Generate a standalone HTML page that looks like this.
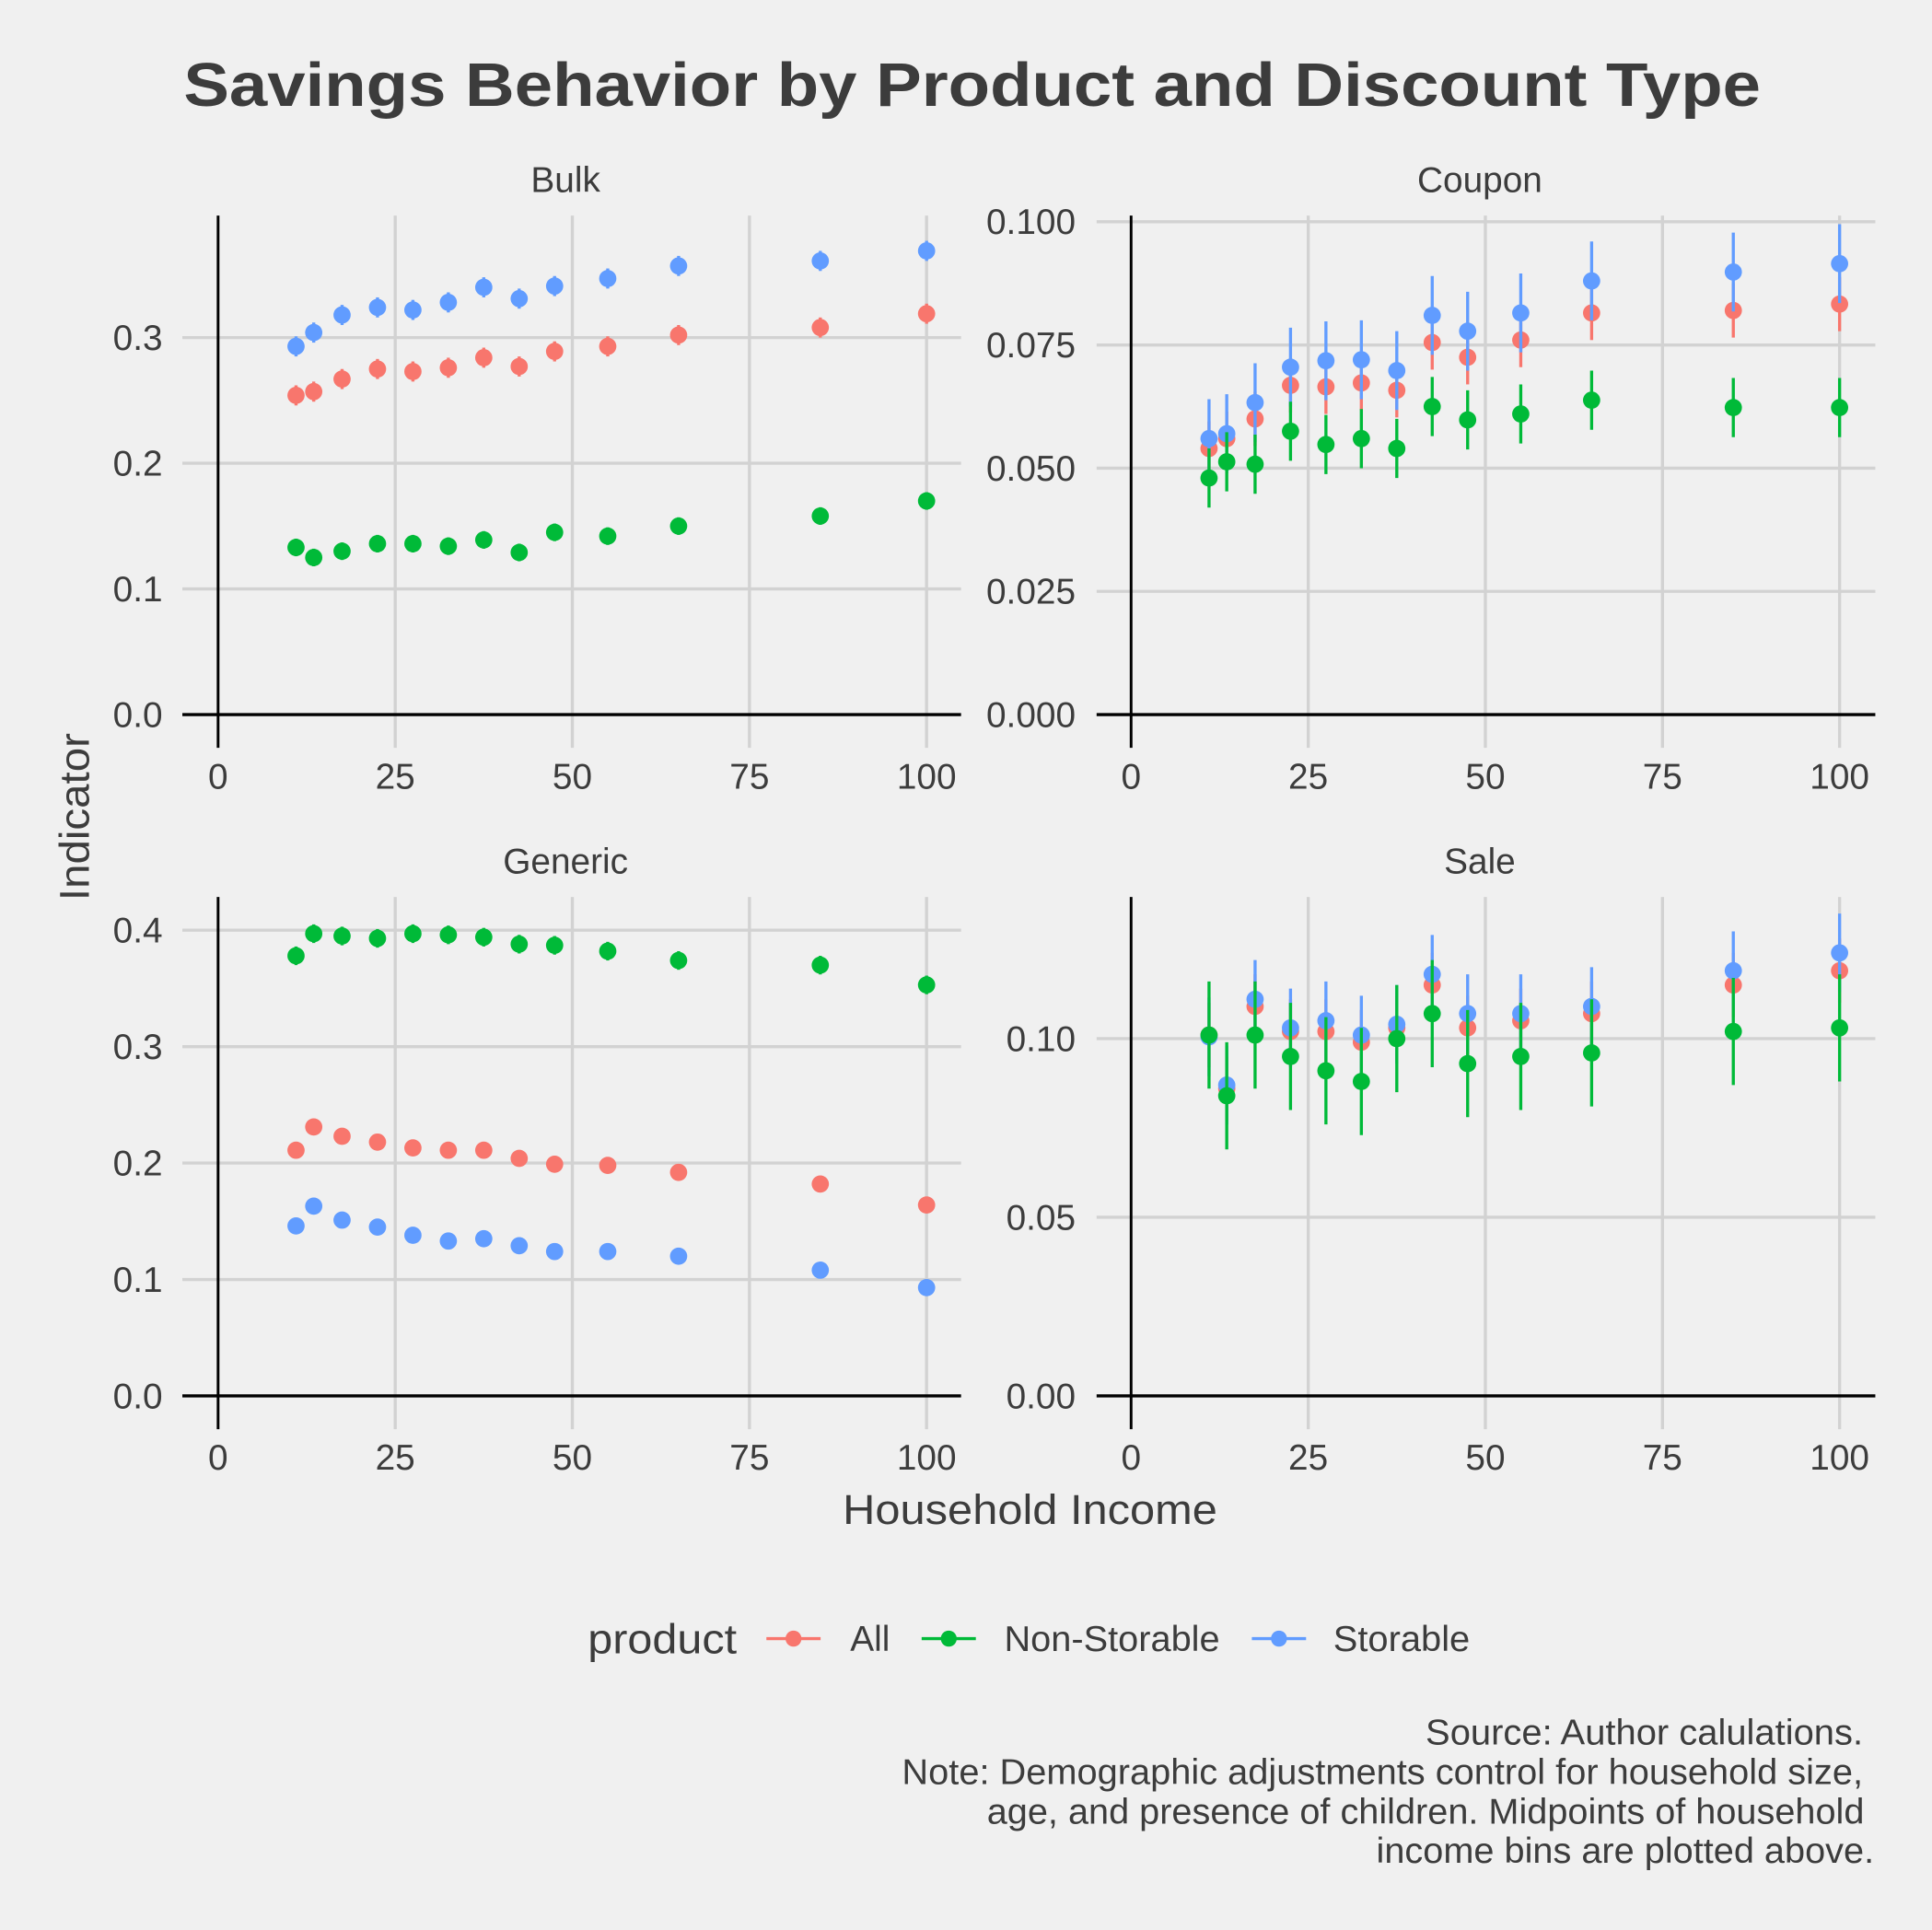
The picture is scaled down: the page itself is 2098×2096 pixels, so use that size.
<!DOCTYPE html>
<html><head><meta charset="utf-8">
<style>
html,body{margin:0;padding:0;background:#f0f0f0;}
svg{display:block;font-family:"Liberation Sans",Arial,sans-serif;}
</style></head>
<body>
<svg id="chart" xmlns="http://www.w3.org/2000/svg" width="2098" height="2096" viewBox="0 0 1568 1566.5">
<rect width="1568" height="1567" fill="#f0f0f0"/>
<text x="789" y="86" text-anchor="middle" font-size="50" font-weight="bold" fill="#3c3c3c" textLength="1280" lengthAdjust="spacingAndGlyphs">Savings Behavior by Product and Discount Type</text>
<text transform="translate(72,663) rotate(-90)" text-anchor="middle" font-size="34" fill="#3c3c3c" textLength="136" lengthAdjust="spacingAndGlyphs">Indicator</text>
<text x="836" y="1237" text-anchor="middle" font-size="34" fill="#3c3c3c" textLength="304" lengthAdjust="spacingAndGlyphs">Household Income</text>
<g id="panels"></g>
<g>
<text x="477" y="1342" font-size="34" fill="#3c3c3c" textLength="121" lengthAdjust="spacingAndGlyphs">product</text>
<g><line x1="622" y1="1330" x2="666" y2="1330" stroke="#F8766D" stroke-width="2.5"/><circle cx="644" cy="1330" r="6.5" fill="#F8766D"/><text x="690" y="1340" font-size="29" fill="#3c3c3c">All</text></g>
<g><line x1="748" y1="1330" x2="792" y2="1330" stroke="#00BA38" stroke-width="2.5"/><circle cx="770" cy="1330" r="6.5" fill="#00BA38"/><text x="815" y="1340" font-size="29" fill="#3c3c3c" textLength="175" lengthAdjust="spacingAndGlyphs">Non-Storable</text></g>
<g><line x1="1016" y1="1330" x2="1060" y2="1330" stroke="#619CFF" stroke-width="2.5"/><circle cx="1038" cy="1330" r="6.5" fill="#619CFF"/><text x="1082" y="1340" font-size="29" fill="#3c3c3c" textLength="111" lengthAdjust="spacingAndGlyphs">Storable</text></g>
</g>
<g font-size="29" fill="#3c3c3c">
<text x="1157" y="1416" textLength="355" lengthAdjust="spacingAndGlyphs">Source: Author calulations.</text>
<text x="732" y="1448" textLength="780" lengthAdjust="spacingAndGlyphs">Note: Demographic adjustments control for household size,</text>
<text x="801" y="1480" textLength="712" lengthAdjust="spacingAndGlyphs">age, and presence of children. Midpoints of household</text>
<text x="1117" y="1512" textLength="404" lengthAdjust="spacingAndGlyphs">income bins are plotted above.</text>
</g>
</svg>
<script>
const incomes = [11, 13.5, 17.5, 22.5, 27.5, 32.5, 37.5, 42.5, 47.5, 55, 65, 85, 100];
const xTicks = [0, 25, 50, 75, 100];
const bulkAll = [0.254,0.257,0.267,0.275,0.273,0.276,0.284,0.277,0.289,0.293,0.302,0.308,0.319];
const bulkNon = [0.133,0.125,0.130,0.136,0.136,0.134,0.139,0.129,0.145,0.142,0.150,0.158,0.170];
const bulkSto = [0.293,0.304,0.318,0.324,0.322,0.328,0.340,0.331,0.341,0.347,0.357,0.361,0.369];
const couponAll = [0.054,0.056,0.060,0.0668,0.0665,0.0673,0.0658,0.0755,0.0725,0.076,0.0815,0.082,0.0833];
const couponNon = [0.048,0.0513,0.0508,0.0575,0.0548,0.056,0.054,0.0625,0.0598,0.061,0.0638,0.0623,0.0623];
const couponSto = [0.056,0.057,0.0633,0.0705,0.0718,0.072,0.0698,0.081,0.0778,0.0815,0.088,0.0898,0.0915];
const genericAll = [0.211,0.231,0.223,0.218,0.213,0.211,0.211,0.204,0.199,0.198,0.192,0.182,0.164];
const genericNon = [0.378,0.397,0.395,0.393,0.397,0.396,0.394,0.388,0.387,0.382,0.374,0.370,0.353];
const genericSto = [0.146,0.163,0.151,0.145,0.138,0.133,0.135,0.129,0.124,0.124,0.120,0.108,0.093];
const saleAll = [0.101,0.086,0.109,0.102,0.102,0.099,0.103,0.115,0.103,0.105,0.107,0.115,0.119];
const saleNon = [0.101,0.084,0.101,0.095,0.091,0.088,0.100,0.107,0.093,0.095,0.096,0.102,0.103];
const saleSto = [0.1005,0.087,0.111,0.103,0.105,0.101,0.104,0.118,0.107,0.107,0.109,0.119,0.124];
const bulkTicks = ["0.0","0.1","0.2","0.3"];
const couponTicks = ["0.000","0.025","0.050","0.075","0.100"];
const genericTicks = ["0.0","0.1","0.2","0.3","0.4"];
const saleTicks = ["0.00","0.05","0.10"];
const errBulk = [0.008,0.007,0.008];
const errCoupon = [0.0055,0.006,0.008];
const errGeneric = [0.005,0.008,0.004];
const errSale = [0.009,0.015,0.011];

const NS = "http://www.w3.org/2000/svg";
const root = document.getElementById('panels');
function mk(tag, attrs, parent){const e=document.createElementNS(NS,tag);for(const k in attrs)e.setAttribute(k,attrs[k]);parent.appendChild(e);return e;}

function panel(name, title, left, top, x0, x100, y0, pxPerUnit, yTicks, series, errs){
  const g = mk('g',{},root);
  
  
  const right = left + 632, bottom = y0 + 27;
  const xs = v => x0 + (x100 - x0) * v / 100;
  const ys = v => y0 - v * pxPerUnit;
  const t = mk('text',{x:(left+right)/2 - 5, y: top - 19, 'text-anchor':'middle','font-size':29,fill:'#3c3c3c'},g);
  t.textContent = title;
  
  
  yTicks.forEach(lbl => {
    const v = parseFloat(lbl), y = ys(v);
    if (v !== 0) { const l = mk('line',{x1:left,x2:right,y1:y,y2:y,stroke:'#d2d2d2','stroke-width':2.5},g);
        }
    const tx = mk('text',{x:x0-45,y:y+10,'text-anchor':'end','font-size':29,fill:'#3c3c3c'},g);
    tx.textContent = lbl;
    
    
  });
  xTicks.forEach(v => {
    const x = xs(v);
    if (v !== 0) { const l = mk('line',{x1:x,x2:x,y1:top,y2:bottom,stroke:'#d2d2d2','stroke-width':2.5},g);
        }
    const tx = mk('text',{x:x,y:y0+60,'text-anchor':'middle','font-size':29,fill:'#3c3c3c'},g);
    tx.textContent = String(v);
    
    
  });
  const ax = mk('line',{x1:x0,x2:x0,y1:top,y2:bottom,stroke:'#000','stroke-width':2.2},g);
   
  const ay = mk('line',{x1:left,x2:right,y1:y0,y2:y0,stroke:'#000','stroke-width':2.5},g);
   
  const colors = ['#F8766D','#00BA38','#619CFF'];
  const snames = ['all','non-storable','storable'];
  [0,2,1].forEach(si => {
    const vals = series[si], e = errs[si];
    vals.forEach((v,i) => {
      const x = xs(incomes[i]);
      const l = mk('line',{x1:x,x2:x,y1:ys(v-e),y2:ys(v+e),stroke:colors[si],'stroke-width':2.5},g);
      
      
      const c = mk('circle',{cx:x,cy:ys(v),r:7,fill:colors[si]},g);
      
      
    });
  });
}
panel('bulk','Bulk',148,175,177,752,580,1020,bulkTicks,[bulkAll,bulkNon,bulkSto],errBulk);
panel('coupon','Coupon',890,175,918,1493,580,4000,couponTicks,[couponAll,couponNon,couponSto],errCoupon);
panel('generic','Generic',148,728,177,752,1133,945,genericTicks,[genericAll,genericNon,genericSto],errGeneric);
panel('sale','Sale',890,728,918,1493,1133,2900,saleTicks,[saleAll,saleNon,saleSto],errSale);
</script>
</body></html>
